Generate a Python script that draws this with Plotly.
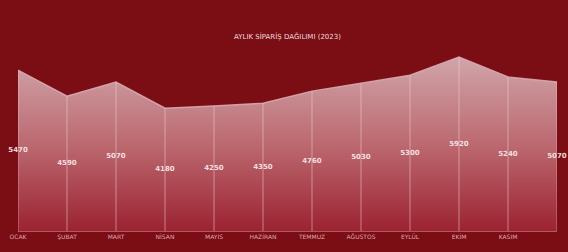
import plotly.graph_objects as go

months = ["OCAK", "ŞUBAT", "MART", "NİSAN", "MAYIS", "HAZİRAN",
          "TEMMUZ", "AĞUSTOS", "EYLÜL", "EKİM", "KASIM", "ARALIK"]
values = [5470, 4590, 5070, 4180, 4250, 4350, 4760, 5030, 5300, 5920, 5240, 5070]
title_text = "AYLIK SİPARİŞ DAĞILIMI (2023)"

xs = list(range(len(months)))
bg = "rgb(122,14,20)"

fig = go.Figure()

fig.add_trace(go.Scatter(
    x=xs, y=values, mode="lines", fill="tozeroy",
    line=dict(color="rgba(215,170,175,0.9)", width=1.5),
    fillgradient=dict(type="vertical",
                      colorscale=[[0, "rgb(155,35,48)"], [0.5, "rgb(188,105,112)"], [1, "rgb(208,165,170)"]]),
    hoverinfo="skip", showlegend=False,
))

dx, dy = [], []
for x, v in zip(xs, values):
    dx += [x, x, None]
    dy += [0, v, None]
fig.add_trace(go.Scatter(
    x=dx, y=dy, mode="lines",
    line=dict(color="rgba(240,215,218,0.5)", width=1),
    hoverinfo="skip", showlegend=False,
))

fig.add_trace(go.Scatter(
    x=xs, y=[v / 2 for v in values], mode="text",
    text=[f"<b>{v}</b>" for v in values],
    textfont=dict(family="DejaVu Sans", size=7, color="rgba(250,232,234,0.95)"),
    hoverinfo="skip", showlegend=False, cliponaxis=False,
))

fig.add_annotation(
    text=title_text, xref="paper", yref="paper", x=0.5, y=1.02,
    showarrow=False, yanchor="middle",
    font=dict(family="DejaVu Sans", size=7, color="rgba(250,230,232,0.95)"),
)

fig.update_layout(
    width=568, height=252,
    margin=dict(l=18, r=11, t=40, b=21),
    paper_bgcolor=bg,
    plot_bgcolor=bg,
    xaxis=dict(range=[0, len(months) - 1], tickvals=xs, ticktext=months,
               showgrid=False, zeroline=False, showline=True,
               linecolor="rgba(200,120,125,0.7)", linewidth=1,
               tickfont=dict(family="DejaVu Sans", size=6, color="rgba(235,190,195,0.9)")),
    yaxis=dict(range=[0, 6500], visible=False, showgrid=False, zeroline=False),
)

fig.write_html(
    "out.html",
    config={"displayModeBar": False},
    post_script="document.body.style.margin='0';document.body.style.padding='0';"
                "document.body.style.background='" + bg + "';"
                "document.body.style.overflow='hidden';",
)
